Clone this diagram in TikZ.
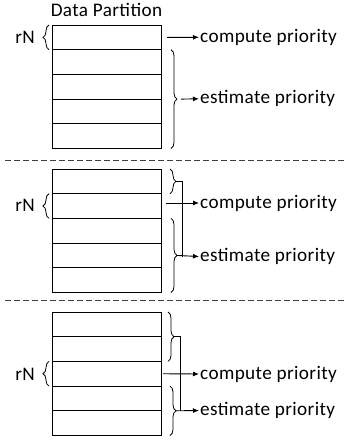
\documentclass[tikz,border=0pt]{standalone}
\usepackage{fontspec}
\setmainfont[LetterSpace=2]{Carlito}
\usetikzlibrary{arrows.meta,decorations.pathreplacing,calc}
\begin{document}
\begin{tikzpicture}[x=1pt,y=-1pt,
  row/.style={draw, line width=1pt, minimum width=109pt, minimum height=24.7pt, inner sep=0pt, outer sep=0pt},
  lbl/.style={font=\fontsize{19.2}{21}\selectfont, inner sep=1pt},
  brc/.style={decorate, decoration={brace, amplitude=6pt}, line width=0.8pt},
  conn/.style={line width=0.9pt, -{Latex[length=6pt,width=5pt]}},
  plain/.style={line width=0.9pt},
  sep/.style={line width=0.8pt, black!75, dash pattern=on 6pt off 3pt}
]
\useasboundingbox (0,0) rectangle (347,442);
% rows
\foreach \s/\t in {1/25,2/169,3/312}{
  \foreach \r in {1,...,5}{
    \node[row] (s\s r\r) at (106.5,{\t+12.35+24.7*(\r-1)}) {};
  }
}
\node[lbl] (title) at (106.5,10) {Data Partition};
% separators
\coordinate (d1a) at (5,160); \coordinate (d1b) at (345,160);
\coordinate (d2a) at (5,300); \coordinate (d2b) at (345,300);
\draw[sep] (d1a) -- (d1b);
\draw[sep] (d2a) -- (d2b);

% ---------- section 1
\node[lbl] (rn1) at (25,37.3) {rN};
\draw[brc] ([xshift=-3pt]s1r1.south west) -- ([xshift=-3pt]s1r1.north west);
\node[lbl, anchor=west] (c1) at (199,37.3) {compute priority};
\node[lbl, anchor=west] (e1) at (199,98.8) {estimate priority};
\draw[conn] ([xshift=6pt]s1r1.east) -- (c1.west);
\draw[brc] ([xshift=10pt]s1r2.north east) -- ([xshift=10pt]s1r5.south east);
\coordinate (t1) at ($([xshift=20pt]s1r2.north east)!0.5!([xshift=20pt]s1r5.south east)$);
\draw[conn] (t1) -- (e1.west);

% ---------- section 2
\node[lbl] (rn2) at (25,205.4) {rN};
\draw[brc] ([xshift=-3pt]s2r2.south west) -- ([xshift=-3pt]s2r2.north west);
\node[lbl, anchor=west] (c2) at (199,203) {compute priority};
\node[lbl, anchor=west] (e2) at (199,256.5) {estimate priority};
\draw[conn] ([xshift=5pt]s2r2.east |- c2.west) -- (c2.west);
\draw[brc] ([xshift=9pt]s2r1.north east) -- ([xshift=9pt]s2r1.south east);
\coordinate (t2a) at ($([xshift=15pt]s2r1.north east)!0.5!([xshift=15pt]s2r1.south east)$);
\draw[brc] ([xshift=10pt]s2r3.north east) -- ([xshift=10pt]s2r5.south east);
\coordinate (t2b) at ($([xshift=16pt]s2r3.north east)!0.5!([xshift=16pt]s2r5.south east)$);
\coordinate (j2) at (182,0);
\draw[plain] (t2a) -- (t2a -| j2) -- (e2.west -| j2);
\draw[conn] (t2b) -- (e2.west);

% ---------- section 3
\node[lbl] (rn3) at (25,374) {rN};
\draw[brc] ([xshift=-3pt]s3r3.south west) -- ([xshift=-3pt]s3r3.north west);
\node[lbl, anchor=west] (c3) at (199,374) {compute priority};
\node[lbl, anchor=west] (e3) at (199,410.5) {estimate priority};
\draw[conn] ([xshift=2pt]s3r3.east) -- (c3.west);
\draw[brc] ([xshift=7pt]s3r1.north east) -- ([xshift=7pt]s3r2.south east);
\coordinate (t3a) at ($([xshift=13pt]s3r1.north east)!0.5!([xshift=13pt]s3r2.south east)$);
\draw[brc] ([xshift=9pt]s3r4.north east) -- ([xshift=9pt]s3r5.south east);
\coordinate (t3b) at ($([xshift=15pt]s3r4.north east)!0.5!([xshift=15pt]s3r5.south east)$);
\coordinate (j3) at (180,0);
\draw[plain] (t3a) -- (t3a -| j3) -- (e3.west -| j3);
\draw[conn] (t3b) -- (e3.west);
\end{tikzpicture}
\end{document}
